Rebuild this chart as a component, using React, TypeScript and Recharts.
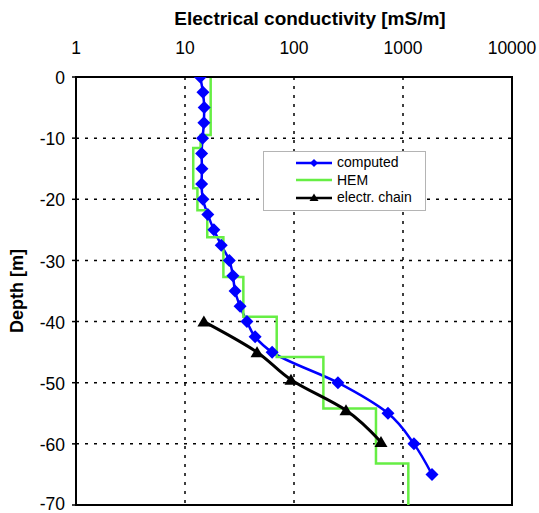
import { ComposedChart, Line, XAxis, YAxis, CartesianGrid, Legend, ReferenceArea } from "recharts";

const FONT = '"Liberation Sans", Arial, Helvetica, sans-serif';

// computed profile (diamonds)
const computedDepth = [0, -2.5, -5, -7.5, -10, -12.5, -15, -17.5, -20, -22.5, -25, -27.5, -30, -32.5, -35, -37.5, -40, -42.5, -45, -50, -55, -60, -65];
const computedValue = [13.8, 14.6, 15.0, 14.9, 14.5, 14.2, 14.3, 14.2, 14.6, 16.2, 18.4, 21.5, 25.5, 27.5, 28.8, 32, 37, 44, 63, 253, 728, 1260, 1845];

// HEM layered model (layer top depth, conductivity)
const hemDepth = [0, -9.5, -11.6, -18.2, -21.8, -26.2, -32.7, -39.2, -45.8, -54.2, -63.2, -70];
const hemValue = [17.2, 13.9, 11.9, 13.0, 16.0, 22.5, 34.3, 69.4, 186, 565, 1119, 1119];

// electrical chain (triangles)
const chainDepth = [-40, -45, -49.5, -54.5, -59.7];
const chainValue = [14.9, 45.8, 93.8, 300, 628];

const xTicks = [1, 10, 100, 1000, 10000];
const yTicks = [0, -10, -20, -30, -40, -50, -60, -70];

const seriesNames = ["computed", "HEM", "electr. chain"];
const seriesColors = ["#0000ff", "#66ee44", "#000000"];

const computed = computedDepth.map((d, i) => ({ depth: d, v: computedValue[i] }));
const hem = hemDepth.map((d, i) => ({ depth: d, v: hemValue[i] }));
const chain = chainDepth.map((d, i) => ({ depth: d, v: chainValue[i] }));

const Diamond = (props: any) => {
  const { cx, cy, index } = props;
  if (cx == null || cy == null) return <g key={index} />;
  const r = 6.5;
  return <path key={index} d={`M${cx},${cy - r}L${cx + r},${cy}L${cx},${cy + r}L${cx - r},${cy}Z`} fill="#0000ff" />;
};

const Triangle = (props: any) => {
  const { cx, cy, index } = props;
  if (cx == null || cy == null) return <g key={index} />;
  return <path key={index} d={`M${cx},${cy - 6}L${cx + 6.5},${cy + 5}L${cx - 6.5},${cy + 5}Z`} fill="#000" />;
};

const legendIcon = (i: number) => {
  const c = seriesColors[i];
  return (
    <svg width={36} height={12} style={{ display: "block" }}>
      <line x1={0} y1={6} x2={36} y2={6} stroke={c} strokeWidth={2.5} />
      {i === 0 && <path d="M18,2L22,6L18,10L14,6Z" fill={c} />}
      {i === 2 && <path d="M18,1.5L22.5,9L13.5,9Z" fill={c} />}
    </svg>
  );
};

const renderLegend = () => (
  <div
    style={{
      boxSizing: "border-box",
      width: 163,
      border: "1px solid #b4b4b4",
      background: "#fff",
      padding: "2px 0 3px 32px",
      fontFamily: FONT,
      fontSize: 14,
      color: "#000",
    }}
  >
    {seriesNames.map((name, i) => (
      <div key={name} style={{ display: "flex", alignItems: "center", height: 17.5 }}>
        {legendIcon(i)}
        <span style={{ marginLeft: 5, lineHeight: "17px" }}>{name}</span>
      </div>
    ))}
  </div>
);

export default function App() {
  return (
    <div style={{ position: "absolute", left: 0, top: 0, width: 539, height: 513, background: "#fff", fontFamily: FONT }}>
      <ComposedChart
        width={539}
        height={513}
        layout="vertical"
        margin={{ top: 0, right: 27, bottom: 8, left: 0 }}
      >
        <CartesianGrid stroke="#000" strokeDasharray="3 6" strokeWidth={1.5} />
        <XAxis
          type="number"
          orientation="top"
          scale="log"
          domain={[1, 10000]}
          ticks={xTicks}
          allowDataOverflow
          height={77}
          tickLine={false}
          tickSize={0}
          tickMargin={23}
          axisLine={{ stroke: "#000", strokeWidth: 2 }}
          tick={{ fill: "#000", fontSize: 17.5, fontFamily: FONT }}
        />
        <YAxis
          type="number"
          dataKey="depth"
          domain={[-70, 0]}
          ticks={yTicks}
          reversed
          allowDataOverflow
          width={76}
          tickSize={4}
          tickMargin={7}
          tickLine={{ stroke: "#000", strokeWidth: 1.5 }}
          axisLine={{ stroke: "#000", strokeWidth: 2 }}
          tick={{ fill: "#000", fontSize: 17.5, fontFamily: FONT, dy: 1 }}
        />
        <ReferenceArea x1={1} x2={10000} y1={-70} y2={0} fill="none" stroke="#000" strokeWidth={2} fillOpacity={0} />
        <Line
          data={computed}
          dataKey="v"
          name={seriesNames[0]}
          type="monotone"
          stroke={seriesColors[0]}
          strokeWidth={2.5}
          dot={Diamond}
          activeDot={false}
          isAnimationActive={false}
        />
        <Line
          data={hem}
          dataKey="v"
          name={seriesNames[1]}
          type="stepBefore"
          stroke={seriesColors[1]}
          strokeWidth={2.5}
          dot={false}
          activeDot={false}
          isAnimationActive={false}
        />
        <Line
          data={chain}
          dataKey="v"
          name={seriesNames[2]}
          type="monotone"
          stroke={seriesColors[2]}
          strokeWidth={3}
          dot={Triangle}
          activeDot={false}
          isAnimationActive={false}
        />
        <Legend
          layout="vertical"
          align="center"
          verticalAlign="middle"
          content={renderLegend}
          wrapperStyle={{ left: 263, top: 151, width: 163 }}
        />
      </ComposedChart>
      <svg width={539} height={513} style={{ position: "absolute", left: 0, top: 0, pointerEvents: "none" }}>
        <text x={310} y={25} textAnchor="middle" fontFamily={FONT} fontSize={19} fontWeight="bold" fill="#000">
          Electrical conductivity [mS/m]
        </text>
        <text transform="translate(23,291) rotate(-90)" textAnchor="middle" fontFamily={FONT} fontSize={18} fontWeight="bold" fill="#000">
          Depth [m]
        </text>
      </svg>
    </div>
  );
}
